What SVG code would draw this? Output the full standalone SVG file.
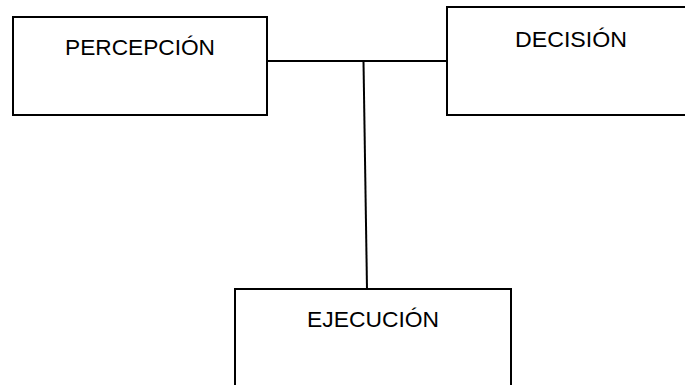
<svg xmlns="http://www.w3.org/2000/svg" width="685" height="385" viewBox="0 0 685 385">
<style>
.box{fill:#fff;stroke:#000;stroke-width:2}
.lbl{font-family:"Liberation Sans",Arial,sans-serif;font-size:22px;fill:#000}
.con{stroke:#000;stroke-width:2;fill:none}
</style>
<rect width="685" height="385" fill="#fff"/>
<g id="connectors">
<line class="con" x1="267" y1="61" x2="447" y2="61"/>
<line class="con" x1="363.5" y1="61" x2="367" y2="289"/>
</g>
<g id="percepcion">
<rect class="box" x="13" y="17" width="254" height="98"/>
<text class="lbl" x="65" y="55" textLength="150" lengthAdjust="spacingAndGlyphs">PERCEPCIÓN</text>
</g>
<g id="decision">
<rect class="box" x="447" y="7" width="250" height="108"/>
<text class="lbl" x="515" y="47" textLength="112" lengthAdjust="spacingAndGlyphs">DECISIÓN</text>
</g>
<g id="ejecucion">
<rect class="box" x="235" y="289" width="276" height="110"/>
<text class="lbl" x="307" y="327" textLength="132" lengthAdjust="spacingAndGlyphs">EJECUCIÓN</text>
</g>
</svg>
